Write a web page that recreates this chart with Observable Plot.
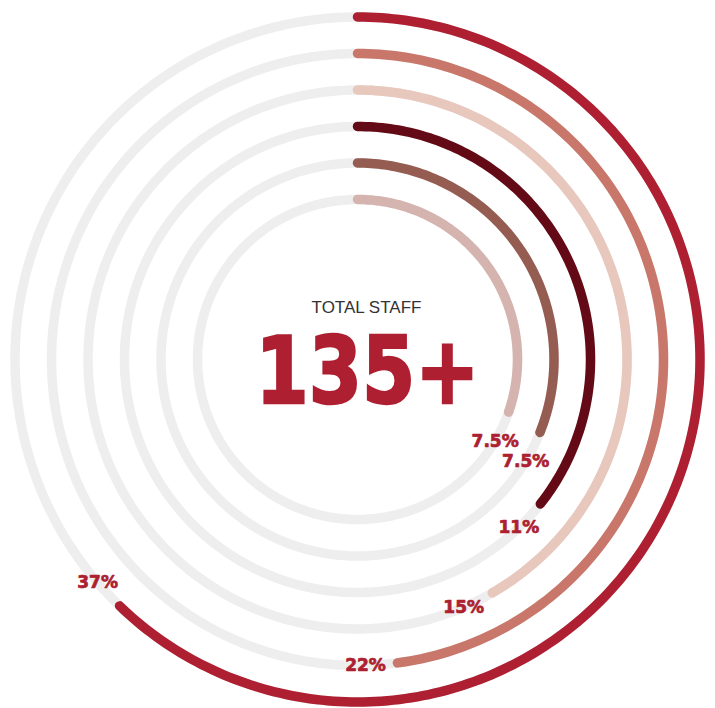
<!DOCTYPE html>
<html><head><meta charset="utf-8">
<script src="https://cdn.jsdelivr.net/npm/d3@7"></script>
<script src="https://cdn.jsdelivr.net/npm/@observablehq/plot@0.6"></script>
<style>body{margin:0;background:#fff}#chart{width:715px;height:708px}</style>
</head><body><div id="chart"></div>
<script>
// ---- data ----
const categories = ["Ring 1", "Ring 2", "Ring 3", "Ring 4", "Ring 5", "Ring 6"];
const shares = [37, 22, 15, 11, 7.5, 7.5];
const shareLabels = ["37%", "22%", "15%", "11%", "7.5%", "7.5%"];
const arcDegrees = [224, 172.5, 150, 128.3, 111.8, 109.2]; // arc sweep, clockwise from top
const ringColors = ["#ad1f31", "#c8776a", "#e8c7bc", "#640a16", "#955c52", "#d5b4af"];
const totalLabel = "TOTAL STAFF";
const totalValue = "135+";

// ---- layout ----
const W = 715, H = 708, cx = 357, cy = 359;
const R0 = 342.5, gap = 36.5, sw = 9.5, labelOffset = 32;
const radius = i => R0 - gap * i;
const pt = (r, deg) => ({x: r * Math.sin(deg * Math.PI / 180), y: -r * Math.cos(deg * Math.PI / 180)});

const track = categories.flatMap((c, i) => d3.range(0, 361, 1).map(a => ({ring: c, ...pt(radius(i), a)})));
const arcs = categories.flatMap((c, i) => {
  const degs = d3.range(0, arcDegrees[i], 1).concat([arcDegrees[i]]);
  return degs.map(a => ({ring: c, color: ringColors[i], ...pt(radius(i), a)}));
});
const labelData = categories.map((c, i) => {
  const r = radius(i);
  const a = arcDegrees[i] + (labelOffset / r) * 180 / Math.PI;
  return {ring: c, share: shares[i], text: shareLabels[i], ...pt(r, a)};
});

const chart = Plot.plot({
  width: W, height: H, margin: 0,
  x: {domain: [-cx, W - cx], range: [0, W], axis: null},
  y: {domain: [-cy, H - cy], range: [0, H], axis: null},
  color: {type: "identity"},
  marks: [
    Plot.line(track, {x: "x", y: "y", z: "ring", stroke: "#eeeeee", strokeWidth: sw}),
    Plot.line(arcs, {x: "x", y: "y", z: "ring", stroke: "color", strokeWidth: sw, strokeLinecap: "round", strokeLinejoin: "round"}),
    Plot.text(labelData, {x: "x", y: "y", text: "text", fill: "#ad1f31", stroke: "#ad1f31", strokeWidth: 0.7, fontSize: 17, fontWeight: "bold", fontFamily: "DejaVu Sans", textAnchor: "middle"}),
    Plot.text([totalLabel], {x: () => 9, y: () => -52, text: d => d, fill: "#333333", fontSize: 17, fontFamily: "Liberation Sans, Arial, sans-serif", textAnchor: "middle"}),
    Plot.text([totalValue], {x: () => 10, y: () => 9, dy: 5, text: d => d, fill: "#ad1f31", stroke: "#ad1f31", strokeWidth: 2.5, strokeLinejoin: "miter", fontSize: 92, fontWeight: "bold", fontFamily: "DejaVu Sans", textAnchor: "middle", className: "big-total"})
  ]
});
document.getElementById("chart").append(chart);
d3.select(chart).selectAll(".big-total text").attr("textLength", 224).attr("lengthAdjust", "spacingAndGlyphs");
</script>
</body></html>
